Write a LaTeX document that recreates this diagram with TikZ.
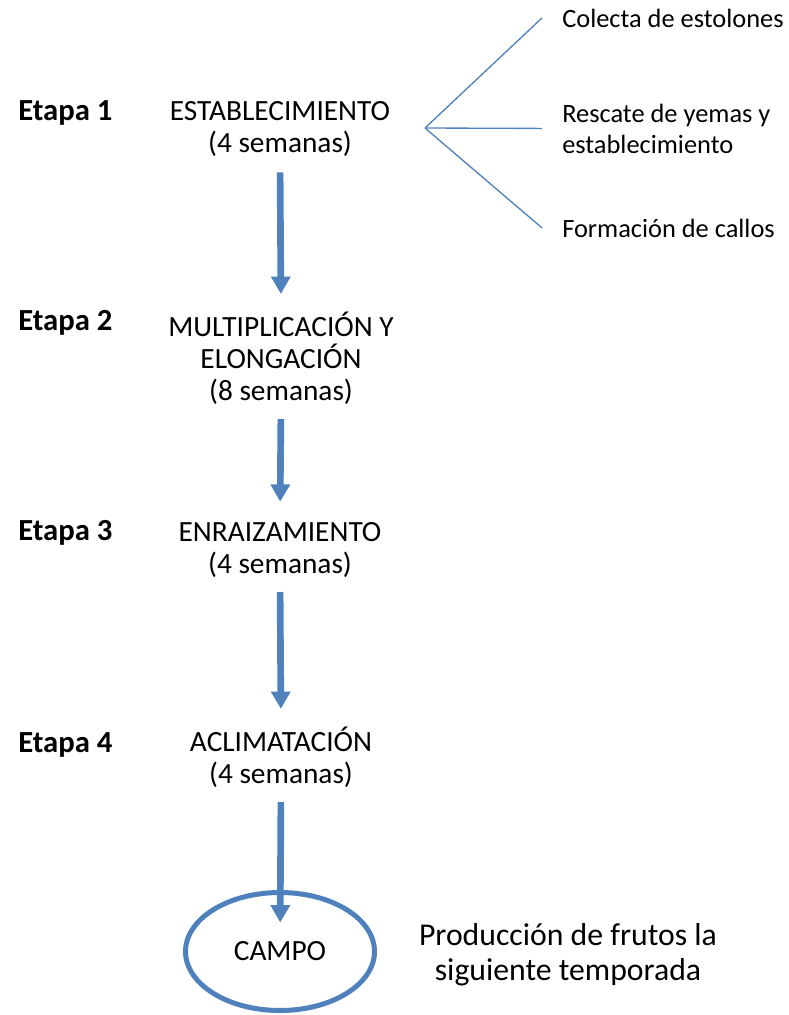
\documentclass[tikz,border=0pt]{standalone}
\usepackage{fontspec}
\setmainfont{Carlito}
\usepackage{tikz}
\usetikzlibrary{arrows.meta,shapes.geometric}
\usepackage{xcolor}
\definecolor{officeblue}{HTML}{4F81BD}
\tikzset{
  etapa/.style={anchor=base west, inner sep=0pt, font=\fontsize{23}{24}\selectfont\bfseries},
  stage/.style={anchor=base, inner sep=0pt, align=center, font=\fontsize{22}{24}\selectfont},
  substep/.style={anchor=base west, inner sep=0pt, align=left, font=\fontsize{19.8}{23.25}\selectfont},
  outcome/.style={anchor=base, inner sep=0pt, align=center, font=\fontsize{23.8}{26.25}\selectfont},
  field/.style={ellipse, draw=officeblue, line width=3.75pt, inner sep=0pt,
    minimum width=141.75pt, minimum height=88.5pt, font=\fontsize{22}{24}\selectfont},
  flow/.style={-{Triangle[width=14pt,length=13pt]}, line width=5pt, draw=officeblue, fill=officeblue},
  branch/.style={draw=officeblue, line width=1pt}
}

\begin{document}
\begin{tikzpicture}[x=0.75pt, y=-0.75pt]
  \useasboundingbox (0,0) rectangle (789,1015);

  \node[etapa] (et1) at (18,120) {Etapa 1};
  \node[etapa] (et2) at (18,330) {Etapa 2};
  \node[etapa] (et3) at (18,540) {Etapa 3};
  \node[etapa] (et4) at (18,752) {Etapa 4};

  % base anchor sits on the last line
  \node[stage] (st1) at (280,152) {ESTABLECIMIENTO\\(4 semanas)};
  \node[stage] (st2) at (281,400) {MULTIPLICACIÓN Y\\ELONGACIÓN\\(8 semanas)};
  \node[stage] (st3) at (280,573) {ENRAIZAMIENTO\\(4 semanas)};
  \node[stage] (st4) at (281,783) {ACLIMATACIÓN\\(4 semanas)};

  \node[field] (campo) at (280,951.5) {CAMPO};
  \node[outcome] (prod) at (568,980) {Producción de frutos la\\siguiente temporada};

  % sub-steps of the first stage
  \coordinate (fork) at (425,128);
  \node[substep] (sub1) at (562,27) {Colecta de estolones};
  \node[substep] (sub2) at (562,153) {Rescate de yemas y\\establecimiento};
  \node[substep] (sub3) at (562,237) {Formación de callos};
  \draw[branch] (fork) -- ([xshift=-15pt]sub1.west);
  \draw[branch] (fork) -- ([xshift=-15pt]sub2.west);
  \draw[branch] (fork) -- ([xshift=-15pt]sub3.west);

  \draw[flow, shorten <=12pt, shorten >=13pt] (st1.south) -- (st2.north);
  \draw[flow, shorten <=11pt, shorten >=15pt] (st2.south) -- (st3.north);
  \draw[flow, shorten <=11pt, shorten >=13pt] (st3.south) -- (st4.north);
  \draw[flow, shorten <=11pt, shorten >=21.75pt] (st4.south) -- (campo.center);
\end{tikzpicture}
\end{document}
